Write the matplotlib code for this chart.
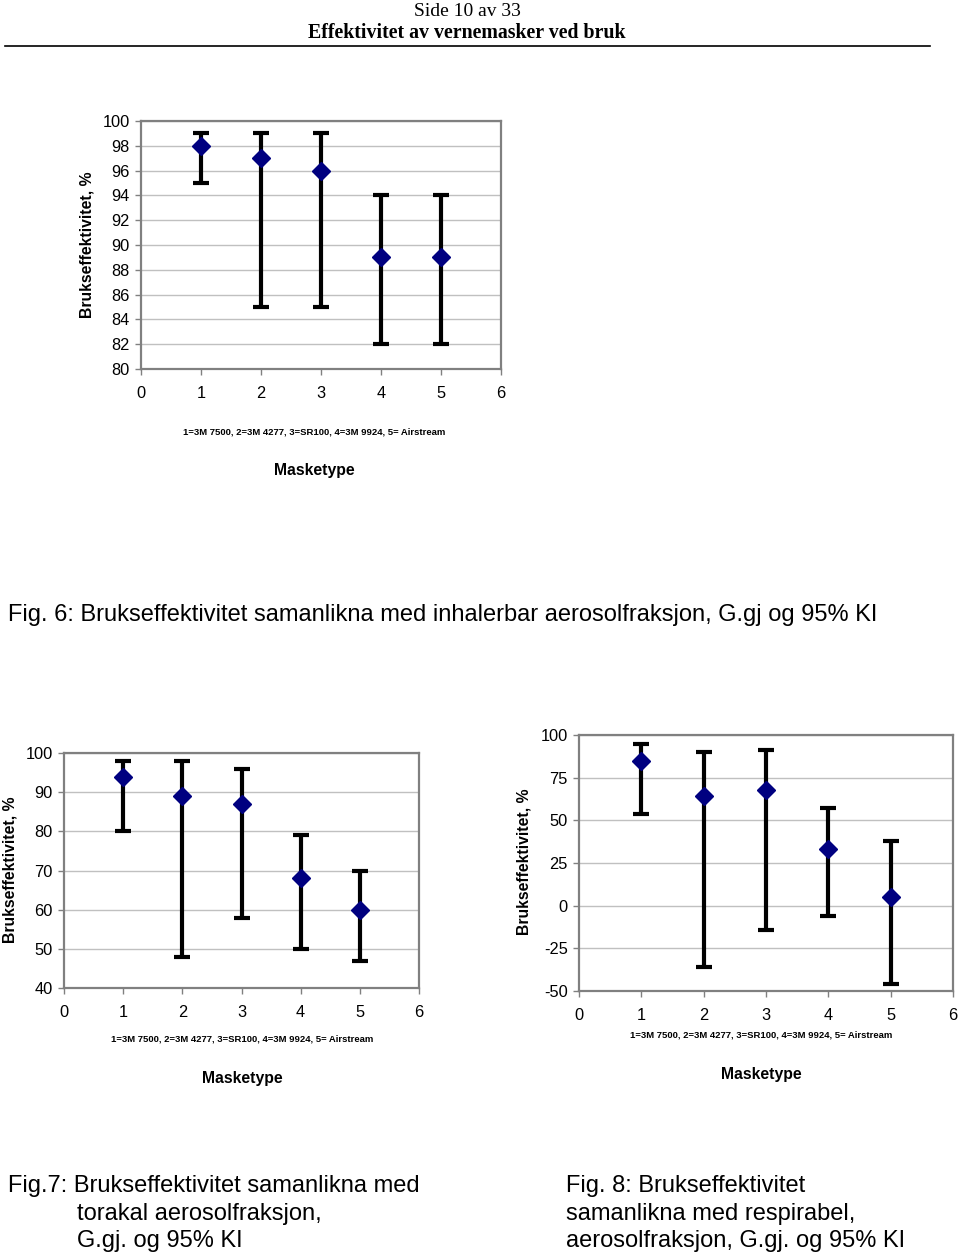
import matplotlib
matplotlib.use("Agg")
import matplotlib.pyplot as plt

plt.rcParams['font.family'] = ['Liberation Sans', 'DejaVu Sans']
plt.rcParams['axes.unicode_minus'] = False

# data
masks = [1, 2, 3, 4, 5]

fig6_mean = [98, 97, 96, 89, 89]
fig6_low = [95, 85, 85, 82, 82]
fig6_high = [99, 99, 99, 94, 94]

fig7_mean = [94, 89, 87, 68, 60]
fig7_low = [80, 48, 58, 50, 47]
fig7_high = [98, 98, 96, 79, 70]

fig8_mean = [85, 64, 68, 33, 5]
fig8_low = [54, -36, -14, -6, -46]
fig8_high = [95, 90, 91, 57, 38]

xticks = [0, 1, 2, 3, 4, 5, 6]
legend_txt = "1=3M 7500, 2=3M 4277, 3=SR100, 4=3M 9924, 5= Airstream"

W, H = 960, 1255
fig = plt.figure(figsize=(W / 100, H / 100), dpi=100)


def px_axes(x0, y0, x1, y1):
    # pixel box (top-left origin) -> figure fraction
    return fig.add_axes([x0 / W, 1 - y1 / H, (x1 - x0) / W, (y1 - y0) / H])


def draw_chart(ax, mean, low, high, yticks):
    yerr = [[m - l for m, l in zip(mean, low)], [h - m for m, h in zip(mean, high)]]
    ax.errorbar(masks, mean, yerr=yerr, fmt='none', ecolor='black',
                elinewidth=3.0, capsize=5.5, capthick=3.0, zorder=3)
    ax.plot(masks, mean, 'D', color='#000080', markersize=9, zorder=4,
            markeredgecolor='#000080')
    ax.set_xlim(0, 6)
    ax.set_ylim(yticks[0], yticks[-1])
    ax.set_xticks(xticks)
    ax.set_yticks(yticks)
    ax.grid(axis='y', color='#c0c0c0', linewidth=1.0)
    ax.set_axisbelow(True)
    for s in ax.spines.values():
        s.set_color('#808080')
        s.set_linewidth(1.6)
    ax.tick_params(axis='both', direction='out', length=4, width=1,
                   color='#808080', labelsize=11.8)
    ax.tick_params(axis='x', pad=8)
    ax.tick_params(axis='y', pad=4)


def px_text(x, y, s, **kw):
    fig.text(x / W, 1 - y / H, s, **kw)


# page header
px_text(467, 11, "Side 10 av 33", ha='center', va='center', fontsize=14,
        family=['Liberation Serif'])
px_text(467, 33, "Effektivitet av vernemasker ved bruk", ha='center', va='center',
        fontsize=14.3, fontweight='bold', family=['Liberation Serif'])
fig.add_artist(plt.Line2D([5 / W, 930 / W], [1 - 46 / H, 1 - 46 / H],
                          color='black', linewidth=1.2))

lab_fs = 11.3
sub_fs = 6.8
cap_fs = 17

# Fig. 6
ax6 = px_axes(141, 121, 501, 369)
draw_chart(ax6, fig6_mean, fig6_low, fig6_high, list(range(80, 101, 2)))
px_text(87, 245, "Brukseffektivitet, %", rotation=90, ha='center', va='center',
        fontsize=lab_fs, fontweight='bold')
px_text(314, 432, legend_txt, ha='center', va='center', fontsize=sub_fs, fontweight='bold')
px_text(314, 471, "Masketype", ha='center', va='center', fontsize=lab_fs, fontweight='bold')
px_text(8, 615, "Fig. 6: Brukseffektivitet samanlikna med inhalerbar aerosolfraksjon, G.gj og 95% KI",
        ha='left', va='center', fontsize=cap_fs)

# Fig. 7
ax7 = px_axes(64, 753, 419, 988)
draw_chart(ax7, fig7_mean, fig7_low, fig7_high, list(range(40, 101, 10)))
px_text(10, 870, "Brukseffektivitet, %", rotation=90, ha='center', va='center',
        fontsize=lab_fs, fontweight='bold')
px_text(242, 1039, legend_txt, ha='center', va='center', fontsize=sub_fs, fontweight='bold')
px_text(242, 1078, "Masketype", ha='center', va='center', fontsize=lab_fs, fontweight='bold')

# Fig. 8
ax8 = px_axes(579, 735, 953, 991)
draw_chart(ax8, fig8_mean, fig8_low, fig8_high, list(range(-50, 101, 25)))
px_text(524, 862, "Brukseffektivitet, %", rotation=90, ha='center', va='center',
        fontsize=lab_fs, fontweight='bold')
px_text(761, 1035, legend_txt, ha='center', va='center', fontsize=sub_fs, fontweight='bold')
px_text(761, 1074, "Masketype", ha='center', va='center', fontsize=lab_fs, fontweight='bold')

# captions
px_text(8, 1186, "Fig.7: Brukseffektivitet samanlikna med", ha='left', va='center', fontsize=cap_fs)
px_text(77, 1214, "torakal aerosolfraksjon,", ha='left', va='center', fontsize=cap_fs)
px_text(77, 1241, "G.gj. og 95% KI", ha='left', va='center', fontsize=cap_fs)
px_text(566, 1186, "Fig. 8: Brukseffektivitet", ha='left', va='center', fontsize=cap_fs)
px_text(566, 1214, "samanlikna med respirabel,", ha='left', va='center', fontsize=cap_fs)
px_text(566, 1241, "aerosolfraksjon, G.gj. og 95% KI", ha='left', va='center', fontsize=cap_fs)

fig.savefig("out.png", dpi=100)
